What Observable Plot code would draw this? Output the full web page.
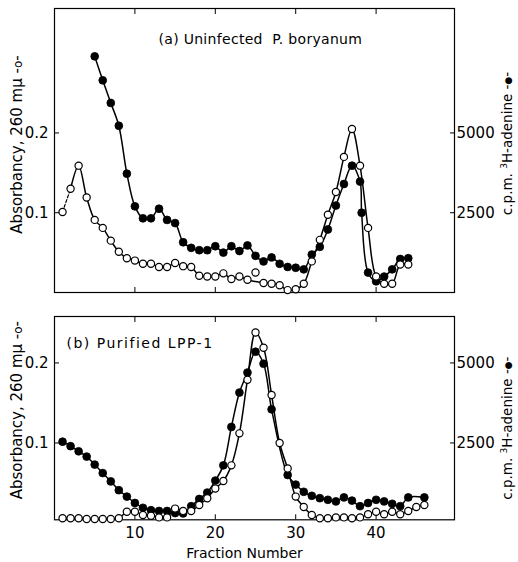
<!DOCTYPE html>
<html>
<head>
<meta charset="utf-8">
<script src="https://cdn.jsdelivr.net/npm/d3@7"></script>
<script src="https://cdn.jsdelivr.net/npm/@observablehq/plot@0.6"></script>
<style>
  body { margin: 0; background: #fff; }
  #chart { width: 518px; height: 562px; }
  #chart svg { display: block; }
</style>
</head>
<body>
<div id="chart"></div>
<script>
// ---------- Panel (a): Uninfected P. boryanum ----------
const openFractionsA = [1,2,3,4,5,6,7,8,9,10,11,12,13,14,15,16,17,18,19,20,21,22,23,24,25,26,27,28,29,30,31,32,33,34,35,36,37,38,39,40,41,42,43,44];
const openAbsA = [0.101,0.130,0.159,0.119,0.091,0.081,0.065,0.051,0.043,0.040,0.036,0.036,0.032,0.032,0.037,0.033,0.032,0.021,0.020,0.020,0.024,0.017,0.020,0.016,0.025,0.012,0.011,0.009,0.003,0.004,0.011,0.039,0.066,0.0975,0.126,0.170,0.205,0.159,0.081,0.020,0.011,0.011,0.035,0.035];
const filledFractionsA = [5,6,7,8,9,10,11,12,13,14,15,16,17,18,19,20,21,22,23,24,25,26,27,28,29,30,31,32,33,34,35,36,37,38,38.2,39,40,41,42,43,44];
const filledCpmA = [7400,6650,5940,5225,3725,2700,2325,2325,2625,2275,2175,1575,1400,1325,1325,1450,1250,1450,1300,1475,1150,975,1100,900,800,775,725,1190,1430,1975,2725,3400,3975,3475,2500,625,350,500,725,1050,1075];
const offCurveFractionsA = [25];   // open point lying off the drawn curve
const dashedThroughA = 2;          // open curve dashed from fraction 1 to 2

// ---------- Panel (b): Purified LPP-1 ----------
const openFractionsB = [1,2,3,4,5,6,7,8,9,10,11,12,13,14,15,16,17,18,19,20,21,22,23,24,25,26,27,28,29,30,31,32,33,34,35,36,37,38,39,40,41,42,43,44,45,46];
const openAbsB = [0.006,0.006,0.006,0.005,0.005,0.005,0.005,0.006,0.014,0.014,0.010,0.009,0.007,0.007,0.018,0.015,0.015,0.0225,0.031,0.043,0.0525,0.072,0.112,0.179,0.238,0.219,0.160,0.100,0.068,0.033,0.020,0.010,0.006,0.006,0.007,0.007,0.006,0.007,0.011,0.014,0.011,0.014,0.011,0.015,0.020,0.0225];
const filledFractionsB = [1,2,3,4,5,6,7,8,9,10,11,12,13,14,15,16,17,18,19,20,21,22,23,24,25,26,27,29,30,31,32,33,34,35,36,37,38,39,40,41,42,43,44,46];
const filledCpmB = [2540,2400,2240,2075,1825,1560,1300,1025,825,625,475,400,375,375,310,300,525,750,950,1325,1800,3000,4075,4700,5350,4975,3550,1500,1200,975,850,775,725,675,800,700,525,625,725,675,600,525,800,800];

// ---------- Axes ----------
const xTicks = [10, 20, 30, 40];
const absTicks = [0.1, 0.2];
const cpmTicks = [2500, 5000];
const cpmPerAbs = 25000;           // right axis: 5000 c.p.m. aligned with 0.2 absorbancy
const leftLabel = "Absorbancy, 260 m\u03bc -o-";
const rightLabel = "c.p.m. \u00b3H-adenine -\u25cf-";

const font = "'DejaVu Sans', sans-serif";

function rows(xs, ys, f = (v) => v) {
  return xs.map((x, i) => ({x, y: f(ys[i])}));
}

function panel(o) {
  const open = rows(o.openX, o.openY);
  const filled = rows(o.filledX, o.filledY, (v) => v / cpmPerAbs);
  const openCurve = open.filter((d) => !o.offCurve.includes(d.x) && d.x >= o.dashedThrough);
  const openDashed = open.filter((d) => d.x <= o.dashedThrough);
  const svg = Plot.plot({
    width: 518,
    height: o.height,
    marginTop: o.marginTop,
    marginBottom: o.marginBottom,
    marginLeft: 54,
    marginRight: 64,
    style: {fontFamily: font, fontSize: "15px", color: "black", background: "white", overflow: "visible"},
    x: {domain: [0, 49.75]},
    y: {domain: o.yDomain},
    marks: [
      Plot.frame({stroke: "black", strokeWidth: 1.2}),
      Plot.axisX({ticks: xTicks, anchor: "bottom", tickSize: -5, tickPadding: 13,
                  tickFormat: o.showX ? (d) => String(d) : () => "", label: null, fontSize: 15}),
      Plot.axisX({ticks: xTicks, anchor: "top", tickSize: -5, tickFormat: () => "", label: null}),
      Plot.axisY({ticks: absTicks, anchor: "left", tickSize: -5, tickPadding: 11,
                  tickFormat: (d) => d.toFixed(1), label: null, fontSize: 15}),
      Plot.axisY({ticks: cpmTicks.map((c) => c / cpmPerAbs), anchor: "right", tickSize: -5, tickPadding: 7,
                  tickFormat: (d) => String(Math.round(d * cpmPerAbs)), label: null, fontSize: 15}),
      Plot.text([leftLabel], {frameAnchor: "left", textAnchor: "middle", rotate: -90, dx: -37, dy: o.leftDy, fontSize: 15}),
      Plot.text([rightLabel], {frameAnchor: "right", textAnchor: "middle", rotate: -90, dx: 53, dy: o.rightDy, fontSize: 13.5}),
      Plot.text([o.title], {frameAnchor: "top-left", textAnchor: "start", lineAnchor: "middle", dx: o.titleDx, dy: o.titleDy, fontSize: 14}),
      o.showX ? Plot.text(["Fraction Number"], {frameAnchor: "bottom", lineAnchor: "middle", dx: -10, dy: 34, fontSize: 14}) : null,
      openDashed.length > 1 ? Plot.line(openDashed, {x: "x", y: "y", stroke: "black", strokeWidth: 1.2, strokeDasharray: "3,2"}) : null,
      Plot.line(openCurve, {x: "x", y: "y", curve: "catmull-rom", stroke: "black", strokeWidth: 1.5}),
      Plot.line(filled, {x: "x", y: "y", curve: "catmull-rom", stroke: "black", strokeWidth: 1.5}),
      Plot.dot(filled, {x: "x", y: "y", r: 3.9, fill: "black", stroke: "black", strokeWidth: 0.8}),
      Plot.dot(open, {x: "x", y: "y", r: 3.6, fill: "white", stroke: "black", strokeWidth: 1.2})
    ]
  });
  const texts = d3.select(svg).selectAll("text");
  // spacing of the panel title as in the reference lettering
  texts.filter(function () { return this.textContent === o.title; })
    .style("letter-spacing", o.titleSpacing);
  // right label: small raised "3" and a small filled circle symbol
  texts.filter(function () { return this.textContent === rightLabel; }).each(function () {
    const t = d3.select(this).text(null);
    t.append("tspan").text("c.p.m. ");
    t.append("tspan").attr("font-size", 9).attr("dy", -5).text("3");
    t.append("tspan").attr("dy", 5).text("H-adenine -");
    t.append("tspan").attr("font-size", 9).attr("dy", -1).text("\u25cf");
    t.append("tspan").attr("dy", 1).text("-");
  });
  // left label: small open circle symbol
  texts.filter(function () { return this.textContent === leftLabel; }).each(function () {
    const t = d3.select(this).text(null);
    t.append("tspan").text("Absorbancy, 260 m\u03bc -");
    t.append("tspan").attr("font-size", 12).text("o");
    t.append("tspan").text("-");
  });
  return svg;
}

const chartA = panel({
  height: 300, marginTop: 8, marginBottom: 8, yDomain: [0, 0.356],
  openX: openFractionsA, openY: openAbsA, filledX: filledFractionsA, filledY: filledCpmA,
  offCurve: offCurveFractionsA, dashedThrough: dashedThroughA,
  title: "(a) Uninfected  P. boryanum", titleDx: 104, titleDy: 31, titleSpacing: "0.3px",
  showX: false, leftDy: -6, rightDy: -7
});
const chartB = panel({
  height: 262, marginTop: 16, marginBottom: 42.7, yDomain: [0.004, 0.258],
  openX: openFractionsB, openY: openAbsB, filledX: filledFractionsB, filledY: filledCpmB,
  offCurve: [], dashedThrough: 0,
  title: "(b) Purified LPP-1", titleDx: 12, titleDy: 27, titleSpacing: "1.5px",
  showX: true, leftDy: -8, rightDy: 10
});
const root = document.getElementById("chart");
root.append(chartA, chartB);
</script>
</body>
</html>
